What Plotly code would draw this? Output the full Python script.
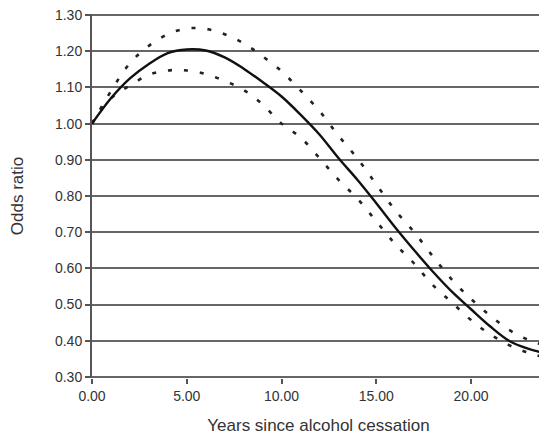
import plotly.graph_objects as go

years = list(range(0, 25))
odds_ratio = [1.00, 1.07, 1.125, 1.165, 1.195, 1.205, 1.202, 1.183, 1.152, 1.115,
              1.075, 1.025, 0.97, 0.905, 0.845, 0.78, 0.713, 0.65, 0.59, 0.535,
              0.487, 0.44, 0.40, 0.378, 0.365]
upper_ci = [1.00, 1.09, 1.167, 1.215, 1.247, 1.263, 1.262, 1.247, 1.222, 1.186,
            1.145, 1.092, 1.035, 0.967, 0.904, 0.832, 0.76, 0.70, 0.632, 0.568,
            0.515, 0.47, 0.43, 0.403, 0.385]
lower_ci = [1.00, 1.07, 1.105, 1.135, 1.147, 1.147, 1.137, 1.118, 1.093, 1.053,
            1.0, 0.962, 0.905, 0.845, 0.793, 0.73, 0.667, 0.613, 0.553, 0.505,
            0.457, 0.418, 0.388, 0.367, 0.353]
x_ticks = [0, 5, 10, 15, 20]
y_ticks = [0.30, 0.40, 0.50, 0.60, 0.70, 0.80, 0.90, 1.00, 1.10, 1.20, 1.30]

fig = go.Figure()
for ys in (upper_ci, lower_ci):
    fig.add_trace(go.Scatter(x=years, y=ys, mode="lines",
                             line=dict(color="#222", width=2.6, dash="4px,12px", shape="spline"),
                             showlegend=False, hoverinfo="skip"))
fig.add_trace(go.Scatter(x=years, y=odds_ratio, mode="lines",
                         line=dict(color="#111", width=2.4, shape="spline"),
                         showlegend=False))

font = "Liberation Sans, Arial, sans-serif"
fig.update_layout(
    width=539, height=438,
    margin=dict(l=84, r=2, t=6, b=68),
    paper_bgcolor="white", plot_bgcolor="white",
    font=dict(family=font, color="#333"),
    xaxis=dict(range=[0, 23.9], tickvals=x_ticks, tickformat=".2f", automargin=False,
               ticks="outside", ticklen=5, tickcolor="#555", tickwidth=1.5,
               showgrid=False, zeroline=False, showline=False,
               tickfont=dict(size=14, color="#333"),
               title=dict(text="Years since alcohol cessation", font=dict(size=17, color="#333"), standoff=16)),
    yaxis=dict(range=[0.297, 1.303], tickvals=y_ticks, tickformat=".2f", automargin=False,
               ticklabeloverflow="allow",
               ticks="outside", ticklen=5, tickcolor="#555", tickwidth=1.5,
               showgrid=True, gridcolor="#666", gridwidth=2,
               zeroline=False, showline=True, linecolor="#555", linewidth=2,
               tickfont=dict(size=14, color="#333"),
               title=dict(text="Odds ratio", font=dict(size=17, color="#333"), standoff=28)),
)
fig.write_html("out.html")
